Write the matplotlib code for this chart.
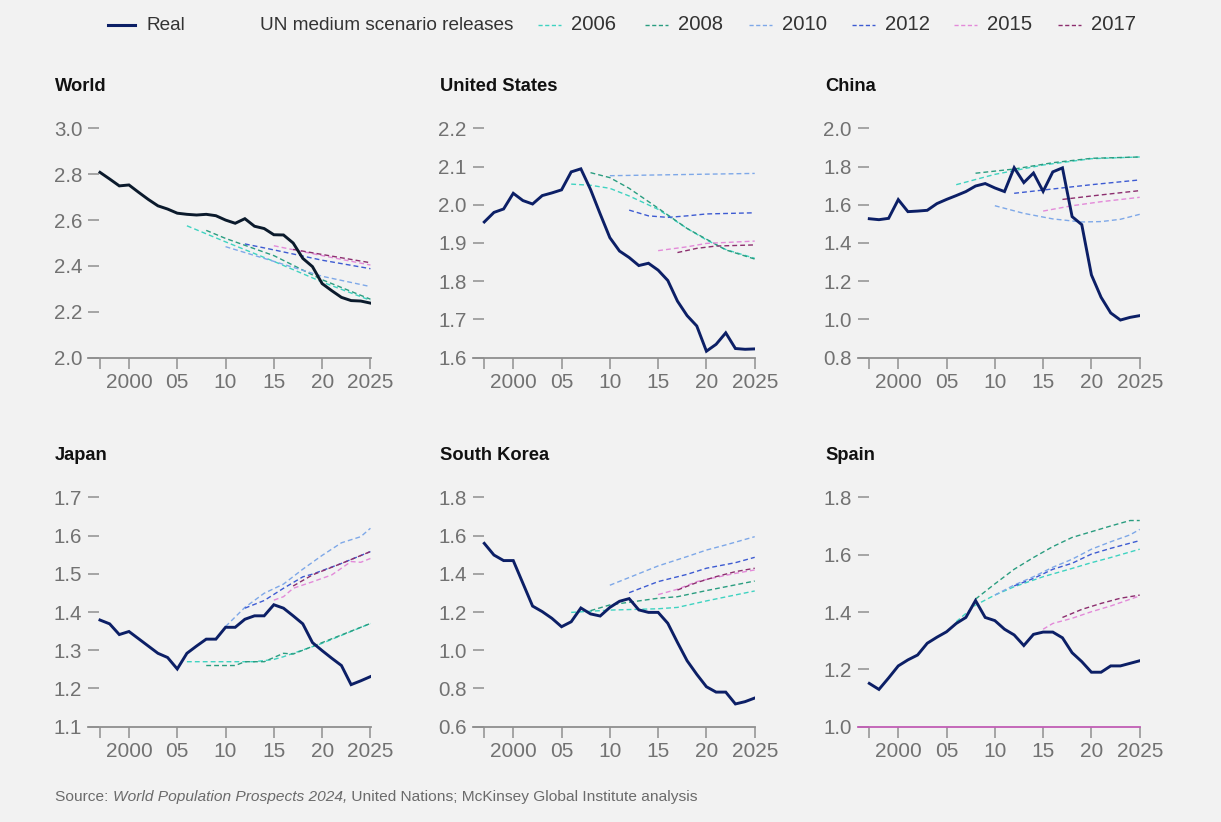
import matplotlib
matplotlib.use("Agg")
import matplotlib.pyplot as plt
from matplotlib.lines import Line2D

plt.rcParams['font.family'] = ['Liberation Sans', 'DejaVu Sans']

# ---------------- data ----------------
years = list(range(1997, 2026))

world_real = [2.808, 2.779, 2.749, 2.753, 2.721, 2.690, 2.662, 2.648, 2.630, 2.625,
              2.622, 2.625, 2.619, 2.600, 2.586, 2.606, 2.573, 2.563, 2.536, 2.535,
              2.500, 2.433, 2.397, 2.323, 2.292, 2.263, 2.249, 2.247, 2.238]
us_real = [1.955, 1.980, 1.989, 2.030, 2.011, 2.002, 2.024, 2.031, 2.039, 2.086,
           2.094, 2.040, 1.976, 1.914, 1.879, 1.862, 1.841, 1.847, 1.829, 1.802,
           1.748, 1.710, 1.683, 1.617, 1.635, 1.665, 1.624, 1.622, 1.623]
china_real = [1.527, 1.522, 1.529, 1.627, 1.564, 1.567, 1.571, 1.606, 1.628, 1.648,
              1.669, 1.698, 1.711, 1.688, 1.669, 1.794, 1.716, 1.766, 1.670, 1.772,
              1.793, 1.538, 1.496, 1.233, 1.116, 1.034, 0.997, 1.011, 1.020]
japan_real = [1.379, 1.369, 1.341, 1.349, 1.330, 1.311, 1.292, 1.281, 1.251, 1.292,
              1.311, 1.329, 1.329, 1.360, 1.360, 1.381, 1.390, 1.390, 1.419, 1.410,
              1.390, 1.369, 1.320, 1.299, 1.279, 1.260, 1.210, 1.220, 1.231]
korea_real = [1.559, 1.498, 1.469, 1.469, 1.350, 1.231, 1.202, 1.167, 1.123, 1.149,
              1.221, 1.190, 1.179, 1.224, 1.256, 1.270, 1.211, 1.198, 1.198, 1.141,
              1.041, 0.945, 0.874, 0.809, 0.781, 0.781, 0.719, 0.731, 0.750]
spain_real = [1.151, 1.130, 1.170, 1.212, 1.233, 1.250, 1.291, 1.312, 1.331, 1.360,
              1.381, 1.440, 1.381, 1.370, 1.340, 1.320, 1.283, 1.322, 1.330, 1.330,
              1.310, 1.258, 1.227, 1.190, 1.190, 1.212, 1.212, 1.221, 1.230]

# UN medium scenario releases (projection years, values)
world_2006_x = [2006, 2010, 2015, 2020, 2025]
world_2006 = [2.575, 2.505, 2.420, 2.330, 2.250]
world_2008_x = [2008, 2010, 2015, 2020, 2025]
world_2008 = [2.555, 2.520, 2.445, 2.340, 2.255]
world_2010_x = [2010, 2015, 2020, 2025]
world_2010 = [2.484, 2.420, 2.355, 2.310]
world_2012_x = [2012, 2015, 2020, 2025]
world_2012 = [2.496, 2.470, 2.425, 2.388]
world_2015_x = [2015, 2020, 2025]
world_2015 = [2.488, 2.445, 2.404]
world_2017_x = [2017, 2020, 2025]
world_2017 = [2.472, 2.450, 2.414]

us_2006_x = [2006, 2008, 2010, 2012, 2015, 2018, 2020, 2022, 2025]
us_2006 = [2.054, 2.051, 2.043, 2.023, 1.988, 1.938, 1.908, 1.883, 1.860]
us_2008_x = [2008, 2010, 2012, 2015, 2018, 2020, 2022, 2025]
us_2008 = [2.084, 2.071, 2.043, 1.991, 1.938, 1.910, 1.882, 1.858]
us_2010_x = [2010, 2015, 2020, 2025]
us_2010 = [2.076, 2.078, 2.080, 2.082]
us_2012_x = [2012, 2014, 2016, 2018, 2020, 2025]
us_2012 = [1.986, 1.971, 1.967, 1.971, 1.976, 1.979]
us_2015_x = [2015, 2018, 2020, 2025]
us_2015 = [1.880, 1.890, 1.899, 1.905]
us_2017_x = [2017, 2019, 2021, 2025]
us_2017 = [1.875, 1.886, 1.892, 1.895]

china_2006_x = [2006, 2010, 2015, 2020, 2025]
china_2006 = [1.705, 1.759, 1.808, 1.841, 1.850]
china_2008_x = [2008, 2012, 2016, 2020, 2025]
china_2008 = [1.765, 1.787, 1.820, 1.843, 1.850]
china_2010_x = [2010, 2013, 2016, 2019, 2021, 2023, 2025]
china_2010 = [1.595, 1.555, 1.526, 1.510, 1.512, 1.524, 1.550]
china_2012_x = [2012, 2015, 2020, 2025]
china_2012 = [1.660, 1.677, 1.705, 1.730]
china_2015_x = [2015, 2018, 2021, 2025]
china_2015 = [1.567, 1.595, 1.616, 1.639]
china_2017_x = [2017, 2020, 2025]
china_2017 = [1.628, 1.646, 1.674]

japan_2006_x = [2006, 2013, 2015, 2016, 2017, 2020, 2025]
japan_2006 = [1.270, 1.270, 1.276, 1.283, 1.292, 1.318, 1.370]
japan_2008_x = [2008, 2011, 2012, 2014, 2016, 2017, 2020, 2025]
japan_2008 = [1.260, 1.260, 1.270, 1.270, 1.292, 1.290, 1.320, 1.370]
japan_2010_x = [2010, 2012, 2014, 2016, 2018, 2020, 2022, 2024, 2025]
japan_2010 = [1.362, 1.412, 1.449, 1.473, 1.512, 1.548, 1.581, 1.597, 1.619]
japan_2012_x = [2012, 2014, 2016, 2018, 2019, 2022, 2025]
japan_2012 = [1.410, 1.430, 1.462, 1.492, 1.499, 1.527, 1.558]
japan_2015_x = [2015, 2016, 2017, 2019, 2021, 2023, 2024, 2025]
japan_2015 = [1.431, 1.440, 1.462, 1.479, 1.497, 1.532, 1.530, 1.540]
japan_2017_x = [2017, 2019, 2022, 2025]
japan_2017 = [1.468, 1.497, 1.527, 1.558]

korea_2006_x = [2006, 2010, 2015, 2017, 2020, 2025]
korea_2006 = [1.198, 1.210, 1.217, 1.224, 1.258, 1.310]
korea_2008_x = [2008, 2010, 2015, 2017, 2020, 2025]
korea_2008 = [1.207, 1.237, 1.272, 1.280, 1.312, 1.362]
korea_2010_x = [2010, 2015, 2018, 2020, 2022, 2025]
korea_2010 = [1.340, 1.441, 1.490, 1.524, 1.551, 1.594]
korea_2012_x = [2012, 2015, 2018, 2020, 2023, 2025]
korea_2012 = [1.301, 1.359, 1.397, 1.429, 1.458, 1.486]
korea_2015_x = [2015, 2017, 2019, 2021, 2023, 2025]
korea_2015 = [1.291, 1.319, 1.359, 1.381, 1.402, 1.420]
korea_2017_x = [2017, 2019, 2021, 2023, 2025]
korea_2017 = [1.315, 1.354, 1.385, 1.411, 1.429]

spain_2006_x = [2006, 2008, 2010, 2012, 2015, 2018, 2020, 2022, 2025]
spain_2006 = [1.366, 1.424, 1.459, 1.488, 1.523, 1.552, 1.572, 1.590, 1.619]
spain_2008_x = [2008, 2010, 2012, 2014, 2016, 2018, 2020, 2022, 2024, 2025]
spain_2008 = [1.445, 1.498, 1.549, 1.590, 1.628, 1.660, 1.680, 1.700, 1.719, 1.719]
spain_2010_x = [2010, 2012, 2014, 2016, 2018, 2020, 2022, 2024, 2025]
spain_2010 = [1.459, 1.494, 1.523, 1.556, 1.584, 1.619, 1.645, 1.669, 1.688]
spain_2012_x = [2012, 2014, 2016, 2018, 2020, 2022, 2025]
spain_2012 = [1.491, 1.517, 1.549, 1.570, 1.602, 1.622, 1.649]
spain_2015_x = [2015, 2016, 2018, 2020, 2022, 2025]
spain_2015 = [1.340, 1.360, 1.378, 1.401, 1.421, 1.456]
spain_2017_x = [2017, 2019, 2021, 2023, 2025]
spain_2017 = [1.381, 1.409, 1.430, 1.448, 1.459]

titles = ["World", "United States", "China", "Japan", "South Korea", "Spain"]
releases = ["2006", "2008", "2010", "2012", "2015", "2017"]
xtick_years = [1997, 2000, 2005, 2010, 2015, 2020, 2025]
xtick_labels = ["", "2000", "05", "10", "15", "20", "2025"]

y_ticks = {
    "World": [2.0, 2.2, 2.4, 2.6, 2.8, 3.0],
    "United States": [1.6, 1.7, 1.8, 1.9, 2.0, 2.1, 2.2],
    "China": [0.8, 1.0, 1.2, 1.4, 1.6, 1.8, 2.0],
    "Japan": [1.1, 1.2, 1.3, 1.4, 1.5, 1.6, 1.7],
    "South Korea": [0.6, 0.8, 1.0, 1.2, 1.4, 1.6, 1.8],
    "Spain": [1.0, 1.2, 1.4, 1.6, 1.8],
}

real_series = {"World": world_real, "United States": us_real, "China": china_real,
               "Japan": japan_real, "South Korea": korea_real, "Spain": spain_real}
proj_series = {
    "World": [(world_2006_x, world_2006), (world_2008_x, world_2008), (world_2010_x, world_2010),
              (world_2012_x, world_2012), (world_2015_x, world_2015), (world_2017_x, world_2017)],
    "United States": [(us_2006_x, us_2006), (us_2008_x, us_2008), (us_2010_x, us_2010),
                      (us_2012_x, us_2012), (us_2015_x, us_2015), (us_2017_x, us_2017)],
    "China": [(china_2006_x, china_2006), (china_2008_x, china_2008), (china_2010_x, china_2010),
              (china_2012_x, china_2012), (china_2015_x, china_2015), (china_2017_x, china_2017)],
    "Japan": [(japan_2006_x, japan_2006), (japan_2008_x, japan_2008), (japan_2010_x, japan_2010),
              (japan_2012_x, japan_2012), (japan_2015_x, japan_2015), (japan_2017_x, japan_2017)],
    "South Korea": [(korea_2006_x, korea_2006), (korea_2008_x, korea_2008), (korea_2010_x, korea_2010),
                    (korea_2012_x, korea_2012), (korea_2015_x, korea_2015), (korea_2017_x, korea_2017)],
    "Spain": [(spain_2006_x, spain_2006), (spain_2008_x, spain_2008), (spain_2010_x, spain_2010),
              (spain_2012_x, spain_2012), (spain_2015_x, spain_2015), (spain_2017_x, spain_2017)],
}

# ---------------- style ----------------
BG = "#f2f2f2"
REAL = "#0c1f66"
REAL_WORLD = "#0b1a2c"
REL_COLORS = ["#3fd3c1", "#2a9d80", "#7ea8e8", "#3d5bd2", "#e38ad9", "#8c2e6e"]
TICK_C = "#8f8f8f"
LABEL_C = "#727272"
W, H = 1221, 822

fig = plt.figure(figsize=(W / 100, H / 100), dpi=100, facecolor=BG)

col_x0 = [88.3, 472.6, 857.6]
ax_w = 282.6
row_top = [128.3, 497.3]
ax_h = 229.4
title_base = [90.7, 459.7]

for i, name in enumerate(titles):
    r, c = divmod(i, 3)
    left = col_x0[c] / W
    bottom = (H - row_top[r] - ax_h) / H
    ax = fig.add_axes([left, bottom, ax_w / W, ax_h / H])
    ax.set_facecolor(BG)
    for (px, py), col in zip(proj_series[name], REL_COLORS):
        ax.plot(px, py, color=col, lw=1.0, dashes=(3.5, 2.2), zorder=2)
    ax.plot(years, real_series[name], color=REAL_WORLD if name == "World" else REAL,
            lw=2.1, zorder=3, solid_joinstyle="miter")
    yt = y_ticks[name]
    ax.set_xlim(1995.79, 2025.05)
    ax.set_ylim(yt[0], yt[-1])
    ax.set_yticks(yt)
    ax.set_yticklabels([f"{v:.1f}" for v in yt])
    ax.set_xticks(xtick_years)
    ax.set_xticklabels(xtick_labels)
    for s in ["top", "right", "left"]:
        ax.spines[s].set_visible(False)
    ax.spines["bottom"].set_color(TICK_C)
    ax.spines["bottom"].set_linewidth(1.3)
    if name == "Spain":
        ax.spines["bottom"].set_color("#c15db5")
    ax.tick_params(axis="y", direction="in", length=8.2, width=1.1, color=TICK_C,
                   pad=4.3, labelsize=14.8, labelcolor=LABEL_C)
    ax.tick_params(axis="x", direction="out", length=7.7, width=1.1, color=TICK_C,
                   pad=3.0, labelsize=15.0, labelcolor=LABEL_C)
    fig.text(55 / W if c == 0 else (col_x0[c] - 32.6) / W, (H - title_base[r]) / H, name,
             fontsize=13.2, fontweight="bold", color="#111111", va="baseline", ha="left")

# ---------------- legend ----------------
ly = (H - 25) / H
fig.add_artist(Line2D([108 / W, 135 / W], [ly, ly], color=REAL, lw=2.2))
fig.text(147 / W, ly, "Real", fontsize=13.7, color="#333333", va="center")
fig.text(260 / W, ly, "UN medium scenario releases", fontsize=13.7, color="#333333", va="center")
leg_line_x = [538, 645, 749, 852, 954, 1058]
for lx, rel, col in zip(leg_line_x, releases, REL_COLORS):
    fig.add_artist(Line2D([lx / W, (lx + 23) / W], [ly, ly], color=col, lw=1.0, dashes=(3, 1.8)))
    fig.text((lx + 33) / W, ly, rel, fontsize=14.6, color="#333333", va="center")

# ---------------- source ----------------
fig.canvas.draw()
renderer = fig.canvas.get_renderer()
sy = (H - 797) / H
x = 55 / W
for txt, style in [("Source: ", "normal"), ("World Population Prospects 2024,", "italic"),
                   (" United Nations; McKinsey Global Institute analysis", "normal")]:
    t = fig.text(x, sy, txt, fontsize=11.15, color="#6b6b6b", style=style, va="center")
    bb = t.get_window_extent(renderer=renderer)
    x = (bb.x1) / W

fig.savefig("out.png", dpi=100, facecolor=BG)
